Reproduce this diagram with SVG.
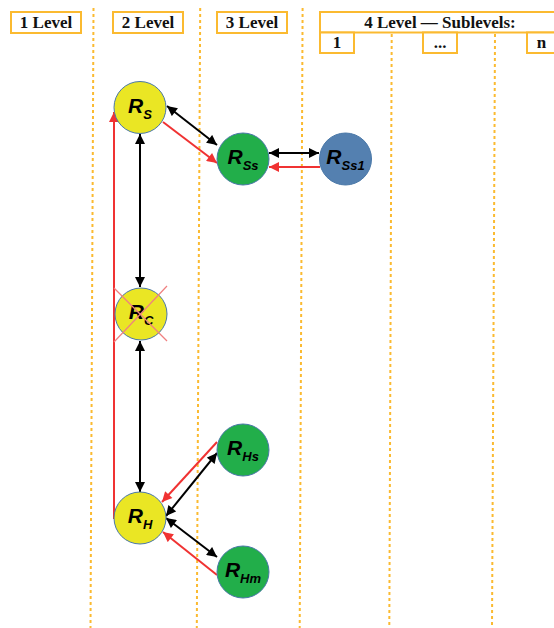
<svg xmlns="http://www.w3.org/2000/svg" width="554" height="628" viewBox="0 0 554 628">
<style>
.hdr{fill:#fff;stroke:#FBBA30;stroke-width:2}
.ht{font-family:"Liberation Serif","Times New Roman",serif;font-weight:bold;font-size:17px;fill:#111;text-anchor:middle}
.dot{stroke:#FBBA30;stroke-width:2;stroke-dasharray:3,3;fill:none}
.nd{stroke:#4A78A8;stroke-width:1}
.y{fill:#EAE624}
.g{fill:#22AE4A}
.b{fill:#5480B0}
.nt{font-family:"Liberation Sans",Arial,sans-serif;font-style:italic;font-weight:bold;font-size:21px;fill:#000;text-anchor:middle}
.sub{font-size:13px}
.bk{stroke:#000;stroke-width:2;fill:none}
.rd{stroke:#F03232;stroke-width:2;fill:none}
</style>
<defs>
<marker id="ab" viewBox="0 0 10 10" refX="10" refY="5" markerWidth="11" markerHeight="10" markerUnits="userSpaceOnUse" orient="auto-start-reverse"><path d="M0,0 L10,5 L0,10 z" fill="#000"/></marker>
<marker id="ar" viewBox="0 0 10 10" refX="10" refY="5" markerWidth="11" markerHeight="10" markerUnits="userSpaceOnUse" orient="auto-start-reverse"><path d="M0,0 L10,5 L0,10 z" fill="#F03232"/></marker>
</defs>
<rect width="554" height="628" fill="#fff"/>
<g id="grid">
<line class="dot" x1="93.5" y1="8" x2="90.5" y2="628"/>
<line class="dot" x1="200.2" y1="8" x2="196.8" y2="628"/>
<line class="dot" x1="302.6" y1="8" x2="299.7" y2="628"/>
<line class="dot" x1="391.7" y1="34" x2="389.3" y2="628"/>
<line class="dot" x1="495" y1="34" x2="492" y2="628"/>
</g>
<g id="headers">
<rect class="hdr" x="11" y="12" width="70" height="21"/>
<text class="ht" x="46" y="28">1 Level</text>
<rect class="hdr" x="113" y="12" width="70" height="21"/>
<text class="ht" x="148" y="28">2 Level</text>
<rect class="hdr" x="217" y="12" width="70" height="21"/>
<text class="ht" x="252" y="28">3 Level</text>
<rect class="hdr" x="320" y="12" width="240" height="20.5"/>
<text class="ht" x="440" y="28">4 Level — Sublevels:</text>
<rect class="hdr" x="320" y="32.5" width="34" height="20.5"/>
<text class="ht" x="337" y="48">1</text>
<rect class="hdr" x="423" y="32.5" width="34" height="20.5"/>
<text class="ht" x="440" y="48">...</text>
<rect class="hdr" x="527" y="32.5" width="34" height="20.5"/>
<text class="ht" x="541.5" y="48">n</text>
</g>
<g id="connectors">
<line class="rd" x1="114" y1="519" x2="114" y2="112" marker-end="url(#ar)"/>
<line class="bk" x1="140" y1="134" x2="140" y2="287" marker-start="url(#ab)" marker-end="url(#ab)"/>
<line class="bk" x1="140" y1="341" x2="140" y2="492" marker-start="url(#ab)" marker-end="url(#ab)"/>
<line class="bk" x1="167" y1="106" x2="217" y2="145" marker-start="url(#ab)" marker-end="url(#ab)"/>
<line class="rd" x1="163" y1="122" x2="217" y2="163" marker-end="url(#ar)"/>
<line class="bk" x1="269" y1="153" x2="319" y2="153" marker-start="url(#ab)" marker-end="url(#ab)"/>
<line class="rd" x1="320" y1="167" x2="269" y2="167" marker-end="url(#ar)"/>
<line class="rd" x1="217" y1="442" x2="162" y2="502" marker-end="url(#ar)"/>
<line class="bk" x1="217" y1="453" x2="166" y2="516" marker-start="url(#ab)" marker-end="url(#ab)"/>
<line class="bk" x1="166" y1="518" x2="217" y2="557" marker-start="url(#ab)" marker-end="url(#ab)"/>
<line class="rd" x1="217" y1="575" x2="163" y2="532" marker-end="url(#ar)"/>
</g>
<g id="RS"><circle class="nd y" cx="140" cy="107.5" r="26"/><text class="nt" x="140" y="112.5">R<tspan class="sub" dy="6">S</tspan></text></g>
<g id="RSs"><circle class="nd g" cx="243" cy="159" r="26"/><text class="nt" x="243" y="163.5">R<tspan class="sub" dy="6">Ss</tspan></text></g>
<g id="RSs1"><circle class="nd b" cx="345.5" cy="159" r="26"/><text class="nt" x="345.5" y="163.5">R<tspan class="sub" dy="6">Ss1</tspan></text></g>
<g id="RC"><circle class="nd y" cx="141" cy="314" r="26"/><text class="nt" x="141" y="319">R<tspan class="sub" dy="6">C</tspan></text>
<line x1="114" y1="288" x2="167" y2="341" stroke="#F08080" stroke-width="1.2"/>
<line x1="167" y1="286" x2="114" y2="342" stroke="#F08080" stroke-width="1.2"/></g>
<g id="RH"><circle class="nd y" cx="140" cy="518" r="26"/><text class="nt" x="140" y="523">R<tspan class="sub" dy="6">H</tspan></text></g>
<g id="RHs"><circle class="nd g" cx="243" cy="450" r="26"/><text class="nt" x="243" y="455">R<tspan class="sub" dy="6">Hs</tspan></text></g>
<g id="RHm"><circle class="nd g" cx="243" cy="572" r="26"/><text class="nt" x="243" y="577">R<tspan class="sub" dy="6">Hm</tspan></text></g>
</svg>
